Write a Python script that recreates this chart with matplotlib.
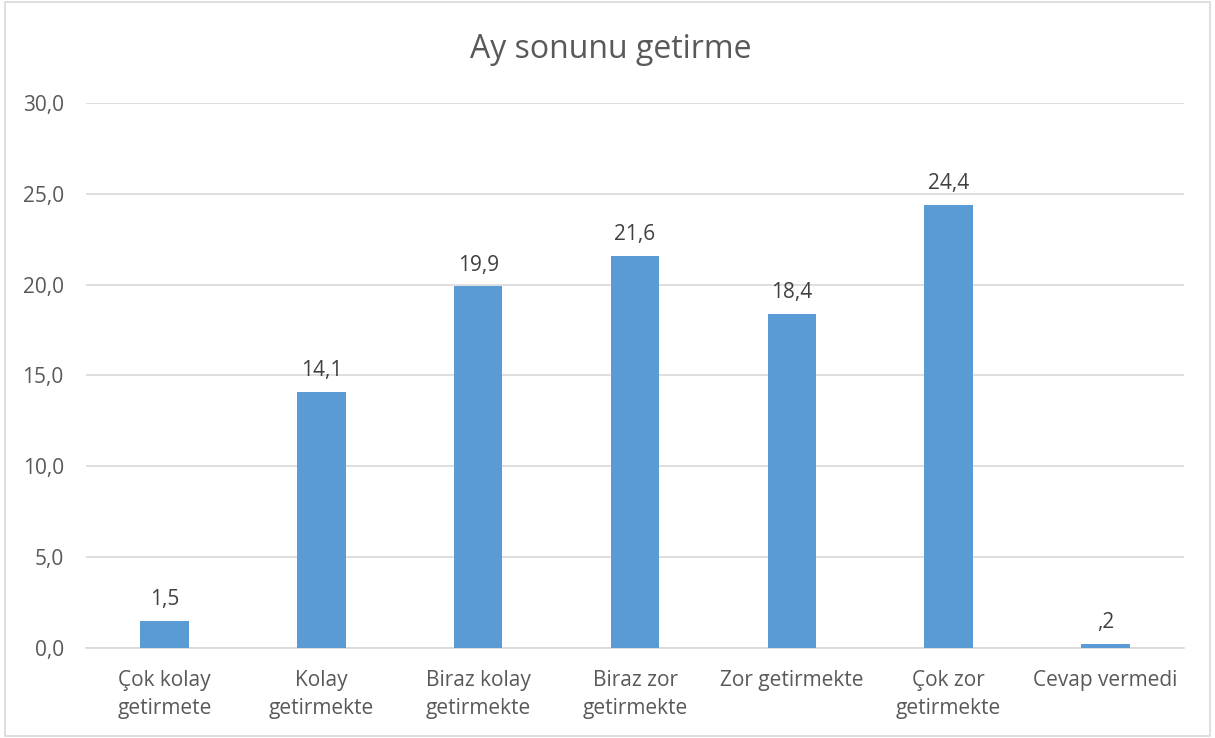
import matplotlib.pyplot as plt
from matplotlib.patches import Rectangle

categories = ["Çok kolay\ngetirmete", "Kolay\ngetirmekte", "Biraz kolay\ngetirmekte",
              "Biraz zor\ngetirmekte", "Zor getirmekte", "Çok zor\ngetirmekte", "Cevap vermedi"]
values = [1.5, 14.1, 19.9, 21.6, 18.4, 24.4, 0.2]
labels = ["1,5", "14,1", "19,9", "21,6", "18,4", "24,4", ",2"]
yticks = [0, 5, 10, 15, 20, 25, 30]

plt.rcParams['font.family'] = ['Open Sans', 'DejaVu Sans']
text_color = "#595959"

fig = plt.figure(figsize=(12.15, 7.38), dpi=100)
ax = fig.add_axes([0.0708, 0.122, 0.9037, 0.7384])

x = range(len(categories))
ax.bar(x, values, width=0.31, color="#5B9BD5", zorder=3)
for xi, v, lab in zip(x, values, labels):
    ax.text(xi, v + 0.6, lab, ha="center", va="bottom", fontsize=15, color="#404040")

ax.set_xlim(-0.5, len(categories) - 0.5)
ax.set_ylim(0, 30)
ax.set_yticks(yticks)
ax.set_yticklabels([f"{t},0" for t in yticks])
ax.set_xticks(list(x))
ax.set_xticklabels(categories, linespacing=1.45)
ax.tick_params(axis="both", length=0, colors=text_color, labelsize=15)
ax.tick_params(axis="y", pad=16)
ax.tick_params(axis="x", pad=16)
ax.grid(axis="y", color="#D9D9D9", linewidth=1.2, zorder=0)
for s in ["top", "right", "left"]:
    ax.spines[s].set_visible(False)
ax.spines["bottom"].set_color("#D9D9D9")
ax.spines["bottom"].set_linewidth(1.2)

fig.text(0.503, 0.933, "Ay sonunu getirme", ha="center", va="center", fontsize=23, color=text_color)
fig.patches.append(Rectangle((0.004, 0.003), 0.992, 0.994, transform=fig.transFigure,
                             fill=False, edgecolor="#D9D9D9", linewidth=1.2))

fig.savefig("out.png", dpi=100)
